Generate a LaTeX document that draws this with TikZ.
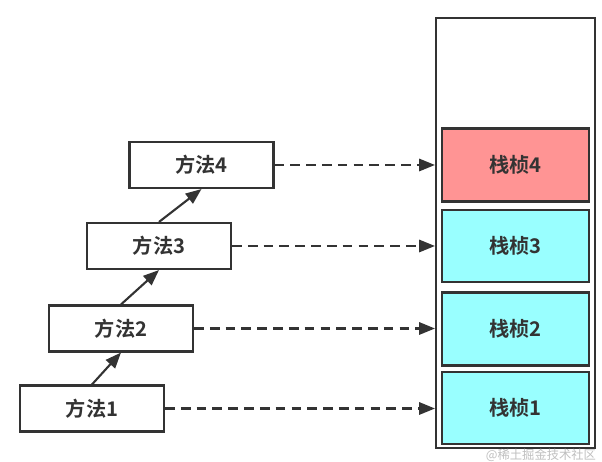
\documentclass[tikz,border=0pt]{standalone}
\usepackage{fontspec}
\setmainfont{Noto Sans CJK SC}[BoldFont={* Bold}]
\usetikzlibrary{arrows.meta}
\definecolor{edge}{HTML}{333333}
\definecolor{framered}{HTML}{FF9494}
\definecolor{framecyan}{HTML}{99FFFF}
\begin{document}
\begin{tikzpicture}[x=0.02cm,y=-0.02cm,
    method/.style={draw=edge,line width=1.2pt,fill=white,minimum width=2.88cm,minimum height=0.92cm,font=\bfseries\fontsize{11.5}{12}\selectfont,text=edge},
    frame/.style={draw=edge,line width=1.2pt,fill=framecyan,minimum width=2.94cm,minimum height=1.46cm,font=\bfseries\fontsize{11.5}{12}\selectfont,text=edge},
    call/.style={draw=edge,line width=1.2pt,-{Triangle[length=9pt,width=7pt]}},
    link/.style={draw=edge,line width=1.2pt,dash pattern=on 5.5pt off 3.5pt,-{Triangle[length=9pt,width=7pt]}}]
    \useasboundingbox (0,0) rectangle (602,462);
    \node[draw=edge,line width=1.2pt,minimum width=3.18cm,minimum height=8.6cm] (stack) at (515.5,233) {};
    \node[frame,fill=framered] (f4) at (515.5,165) {栈桢4};
    \node[frame,minimum height=1.44cm] (f3) at (515.5,246) {栈桢3};
    \node[frame] (f2) at (515.5,329) {栈桢2};
    \node[frame,minimum height=1.44cm] (f1) at (515.5,408) {栈桢1};
    \node[method] (m4) at (201.5,165) {方法4};
    \node[method] (m3) at (159,246) {方法3};
    \node[method] (m2) at (121,328.5) {方法2};
    \node[method] (m1) at (92,408.5) {方法1};
    \draw[call] (m1.north) -- (m2.south);
    \draw[call] (m2.north) -- (m3.south);
    \draw[call] (m3.north) -- (m4.south);
    \draw[link] (m4) -- (m4 -| stack.west);
    \draw[link] (m3) -- (m3 -| stack.west);
    \draw[link] (m2) -- (m2 -| stack.west);
    \draw[link] (m1) -- (m1 -| stack.west);
    \node[text=black!25,font=\fontsize{7}{8}\selectfont] (mark) at (541,455) {@稀土掘金技术社区};
\end{tikzpicture}
\end{document}
